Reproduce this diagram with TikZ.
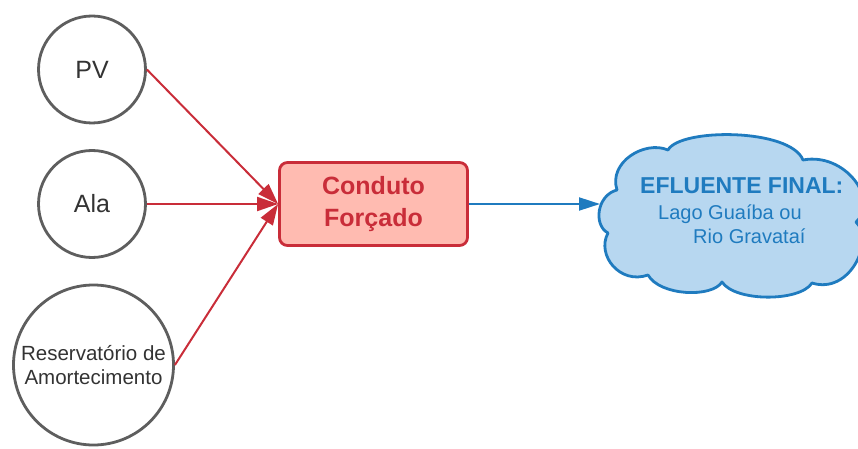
\documentclass[tikz,border=0pt]{standalone}
\usepackage{fontspec}
\setmainfont{Liberation Sans}
\usetikzlibrary{arrows.meta}

\definecolor{ringgray}{HTML}{5E5E5E}
\definecolor{labelgray}{HTML}{333333}
\definecolor{pipered}{HTML}{C92D39}
\definecolor{pipefill}{HTML}{FFBBB1}
\definecolor{waterblue}{HTML}{1F7BBF}
\definecolor{waterfill}{HTML}{B7D7F0}

\begin{document}
\begin{tikzpicture}[x=1pt,y=-1pt,
  source/.style={circle,draw=ringgray,line width=2.8pt,fill=white,
    text=labelgray,inner sep=0pt},
  bigtext/.style={font=\fontsize{25}{30}\selectfont},
  smalltext/.style={font=\fontsize{20.5}{24}\selectfont,align=center},
  pipebox/.style={draw=pipered,fill=pipefill,line width=2.8pt,
    rounded corners=8pt,minimum width=188pt,minimum height=83pt,
    text=pipered,font=\fontsize{25}{32}\selectfont\bfseries,align=center,
    inner sep=0pt},
  inflow/.style={draw=pipered,line width=2pt,
    -{Triangle[length=21pt,width=14pt]}},
  outflow/.style={draw=waterblue,line width=2pt,
    -{Triangle[length=21pt,width=13pt]}},
  cloudline/.style={draw=waterblue,fill=waterfill,line width=2.8pt,
    line join=round},
  cloudhead/.style={anchor=base west,inner sep=0pt,text=waterblue,
    font=\fontsize{23}{28}\selectfont\bfseries},
  cloudbody/.style={anchor=base west,inner sep=0pt,text=waterblue,
    font=\fontsize{20}{24}\selectfont},
]
\useasboundingbox (0,0) rectangle (858,449);

% sources
\node[source,bigtext,minimum size=107pt] (pv) at (92,69.5) {PV};
\node[source,bigtext,minimum size=107pt] (ala) at (92,204) {Ala};
\node[source,smalltext,minimum size=160pt] (res) at (93.5,365)
  {Reservatório de\\Amortecimento};

% forced conduit
\node[pipebox] (pipe) at (373.5,204) {Conduto\\Forçado};

% receiving water body
\path[cloudline]
  (617,190) .. controls (608,162) and (645,140) .. (668,150)
            .. controls (680,128) and (790,128) .. (803,160)
            .. controls (845,152) and (880,200) .. (856,222)
            .. controls (875,240) and (850,295) .. (812,283)
            .. controls (800,302) and (735,302) .. (722,282)
            .. controls (712,298) and (660,296) .. (648,275)
            .. controls (620,285) and (596,255) .. (608,233)
            .. controls (593,225) and (597,195) .. (617,190) -- cycle;
\coordinate (cloudW) at (600,204);
\node[cloudhead] (efl) at (640,193) {EFLUENTE FINAL:};
\node[cloudbody] (lago) at (658,219) {Lago Guaíba ou};
\node[cloudbody] (rio) at (693,243) {Rio Gravataí};

% connectors
\draw[inflow] (pv.east) -- (pipe.west);
\draw[inflow] (ala.east) -- (pipe.west);
\draw[inflow] (res.east) -- (pipe.west);
\draw[outflow] (pipe.east) -- (cloudW);
\end{tikzpicture}
\end{document}
